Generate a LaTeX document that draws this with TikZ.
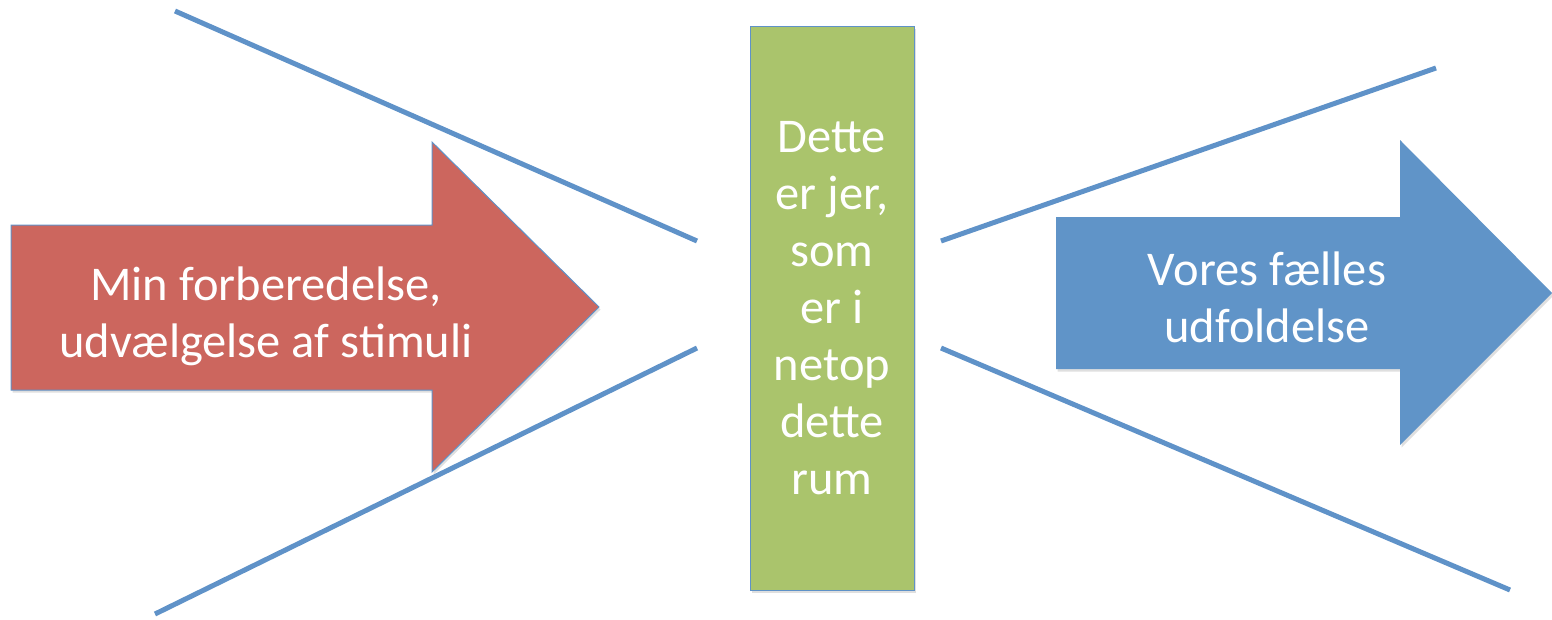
\documentclass[tikz,border=0pt]{standalone}
\usepackage{fontspec}
\setmainfont{Carlito}
\usetikzlibrary{shadows}
\definecolor{lineblue}{RGB}{95,146,200}
\definecolor{arrowred}{RGB}{204,102,94}
\definecolor{roomgreen}{RGB}{170,196,108}
\definecolor{arrowblue}{RGB}{96,148,200}
\tikzset{
  funnel/.style={lineblue, line width=5pt},
  shapeshadow/.style={drop shadow={shadow xshift=1.5pt, shadow yshift=-2.5pt, opacity=0.25}},
  boxtext/.style={text=white, align=center, inner sep=0pt, font=\fontsize{48.5}{57}\selectfont},
  roombox/.style={boxtext, fill=roomgreen, draw=lineblue, line width=1pt, shapeshadow,
    minimum width=164pt, minimum height=564pt}
}
\begin{document}
\begin{tikzpicture}[x=1pt,y=-1pt]
\useasboundingbox (0,0) rectangle (1552,619);
% lines in and out of the room
\draw[funnel] (175,11) -- (697,241);
\draw[funnel] (155,614) -- (697,348);
\draw[funnel] (941,241) -- (1436,68);
\draw[funnel] (941,348) -- (1510,590);
% red arrow
\filldraw[fill=arrowred, draw=lineblue, line width=1pt, shapeshadow] (11,225) -- (432,225) -- (432,142) -- (599,307) -- (432,472) -- (432,390) -- (11,390) -- cycle;
\node[boxtext] (prep) at (266,316) {Min forberedelse,\\udvælgelse af stimuli};
% green room
\node[roombox] (room) at (832,308) {Dette\\er jer,\\som\\er i\\netop\\dette\\rum};
% blue arrow
\fill[arrowblue, shapeshadow] (1056,217) -- (1400,217) -- (1400,140) -- (1552,293) -- (1400,445) -- (1400,369) -- (1056,369) -- cycle;
\node[boxtext] (together) at (1267,297) {Vores fælles\\udfoldelse};
\end{tikzpicture}
\end{document}
